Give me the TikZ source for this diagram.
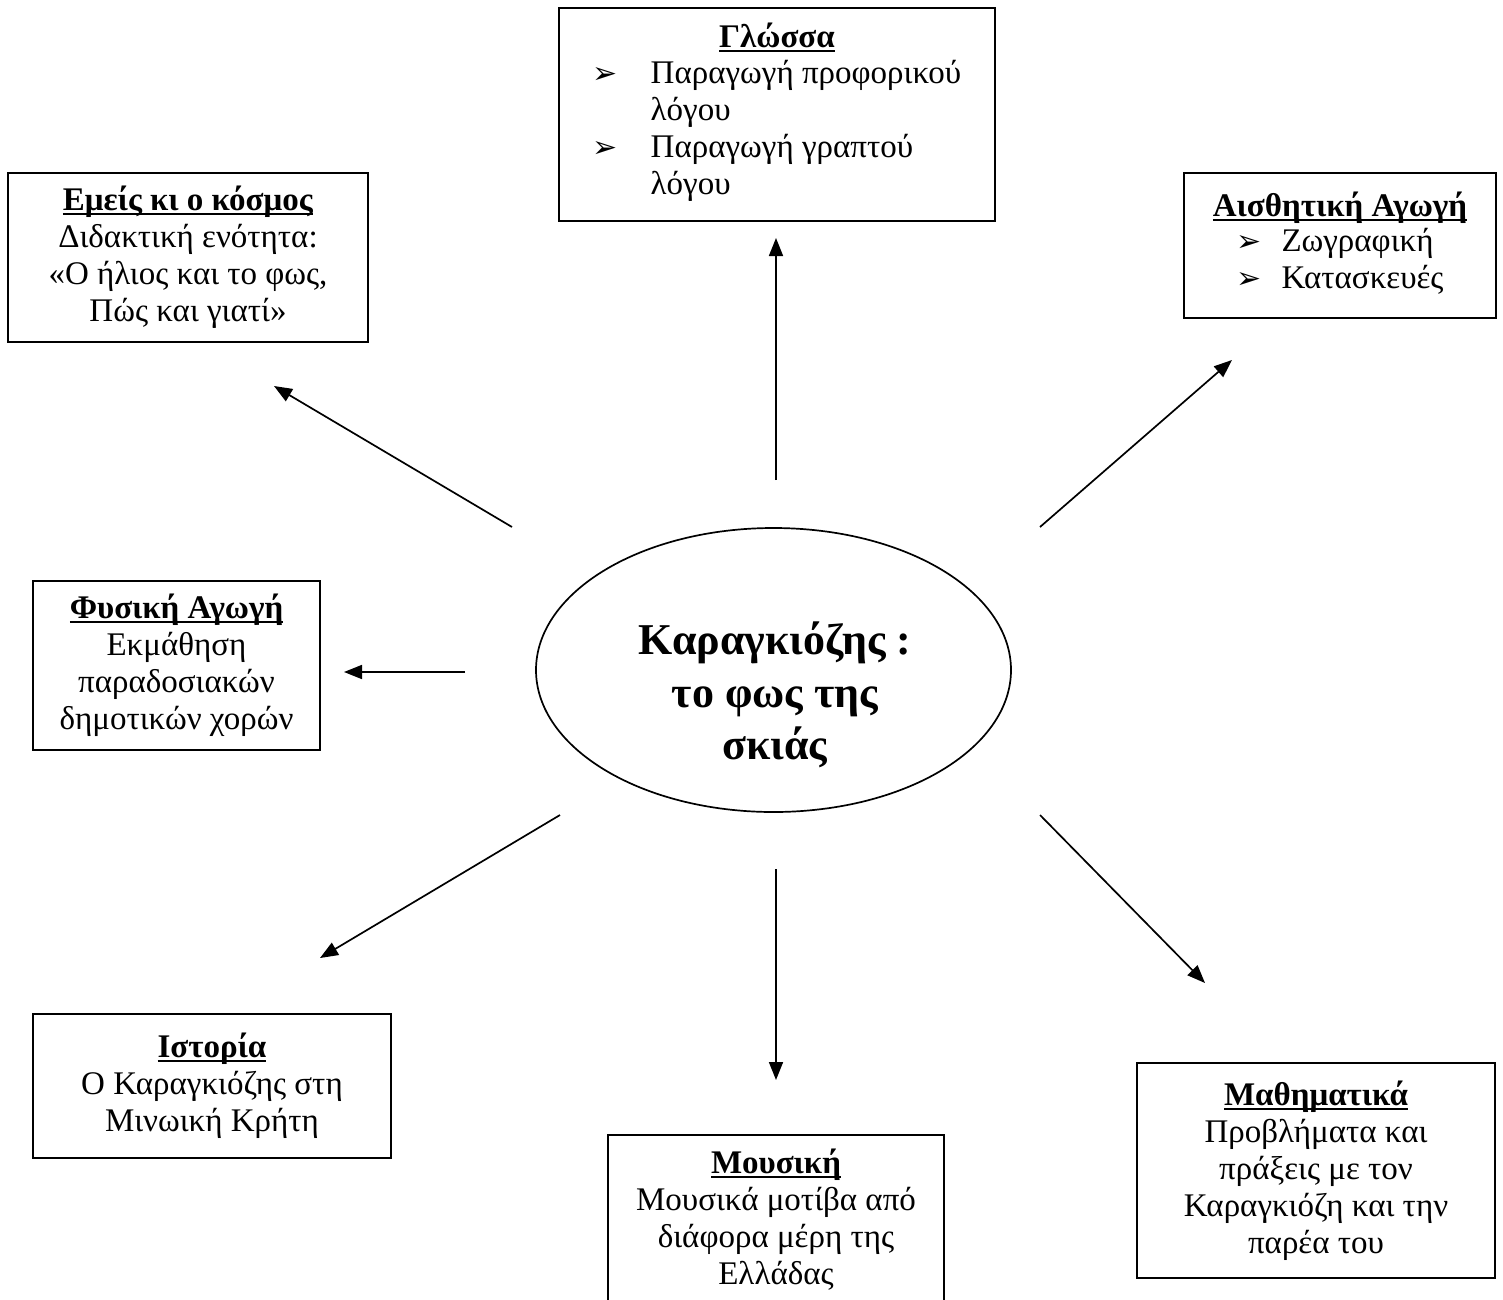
\documentclass[tikz,border=0pt]{standalone}
\usepackage{fontspec}
\setmainfont{Liberation Serif}
\newfontfamily\symfont{DejaVu Sans}
\usetikzlibrary{arrows.meta,shapes.geometric}
\newcommand\ulin[1]{\setbox0\hbox{#1}\rlap{\copy0}\rule[-0.14em]{\wd0}{0.07em}}
\newcommand\bulg[1]{\makebox[#1][l]{\symfont\fontsize{30}{30}\selectfont ➢}}
\tikzset{
  box/.style={draw, line width=1.7pt, inner sep=0pt, align=center,
    font=\fontsize{33}{37}\selectfont},
  arr/.style={line width=1.7pt, -{Triangle[length=18pt,width=14pt]}},
  centre/.style={draw, ellipse, line width=1.7pt, inner sep=0pt},
  centretext/.style={align=center, inner sep=0pt,
    font=\fontsize{44}{52.5}\selectfont\bfseries}
}
\begin{document}
\begin{tikzpicture}[x=1pt,y=-1pt]
\useasboundingbox (0,0) rectangle (1503,1299);
\fill[white] (0,0) rectangle (1503,1299);

\node[centre, minimum width=475, minimum height=284] (c) at (773.5,670) {};
\node[centretext] (ctext) at (775,695) {Καραγκιόζης :\\το φως της\\σκιάς};

\node[box, minimum width=436, minimum height=213] (glossa) at (777,114.5) {%
\ulin{\textbf{Γλώσσα}}\\[5pt]
\begin{tabular}{@{}l@{}l@{}}
\bulg{58pt} & Παραγωγή προφορικού\\
 & λόγου\\
\bulg{58pt} & Παραγωγή γραπτού\\
 & λόγου
\end{tabular}};

\node[box, minimum width=360, minimum height=169] (emeis) at (188,257.5) {%
\ulin{\textbf{Εμείς κι ο κόσμος}}\\
Διδακτική ενότητα:\\
«Ο ήλιος και το φως,\\
Πώς και γιατί»};

\node[box, minimum width=312, minimum height=145] (aisth) at (1340,245.5) {%
\ulin{\textbf{Αισθητική Αγωγή}}\\[1pt]
\begin{tabular}{@{}l@{}l@{}}
\bulg{45pt} & Ζωγραφική\\
\bulg{45pt} & Κατασκευές
\end{tabular}};

\node[box, minimum width=287, minimum height=169] (fysiki) at (176.5,665.5) {%
\ulin{\textbf{Φυσική Αγωγή}}\\
Εκμάθηση\\
παραδοσιακών\\
δημοτικών χορών};

\node[box, minimum width=358, minimum height=144] (istoria) at (212,1086) {%
\ulin{\textbf{Ιστορία}}\\
Ο Καραγκιόζης στη\\
Μινωική Κρήτη};

\node[box, minimum width=336, minimum height=170, anchor=north] (mousiki) at (776,1134) {%
\ulin{\textbf{Μουσική}}\\
Μουσικά μοτίβα από\\
διάφορα μέρη της\\
Ελλάδας};

\node[box, minimum width=358, minimum height=215] (math) at (1316,1170.5) {%
\ulin{\textbf{Μαθηματικά}}\\
Προβλήματα και\\
πράξεις με τον\\
Καραγκιόζη και την\\
παρέα του};

\coordinate (u0) at (776,480);  \coordinate (u1) at (776,238);
\coordinate (ul0) at (512,527); \coordinate (ul1) at (274,386);
\coordinate (ur0) at (1040,527); \coordinate (ur1) at (1232,360);
\coordinate (l0) at (465,672);  \coordinate (l1) at (344,672);
\coordinate (dl0) at (560,815); \coordinate (dl1) at (320,958);
\coordinate (d0) at (776,869);  \coordinate (d1) at (776,1080);
\coordinate (dr0) at (1040,815); \coordinate (dr1) at (1205,983);

\draw[arr] (u0) -- (u1);
\draw[arr] (ul0) -- (ul1);
\draw[arr] (ur0) -- (ur1);
\draw[arr] (l0) -- (l1);
\draw[arr] (dl0) -- (dl1);
\draw[arr] (d0) -- (d1);
\draw[arr] (dr0) -- (dr1);
\end{tikzpicture}
\end{document}
